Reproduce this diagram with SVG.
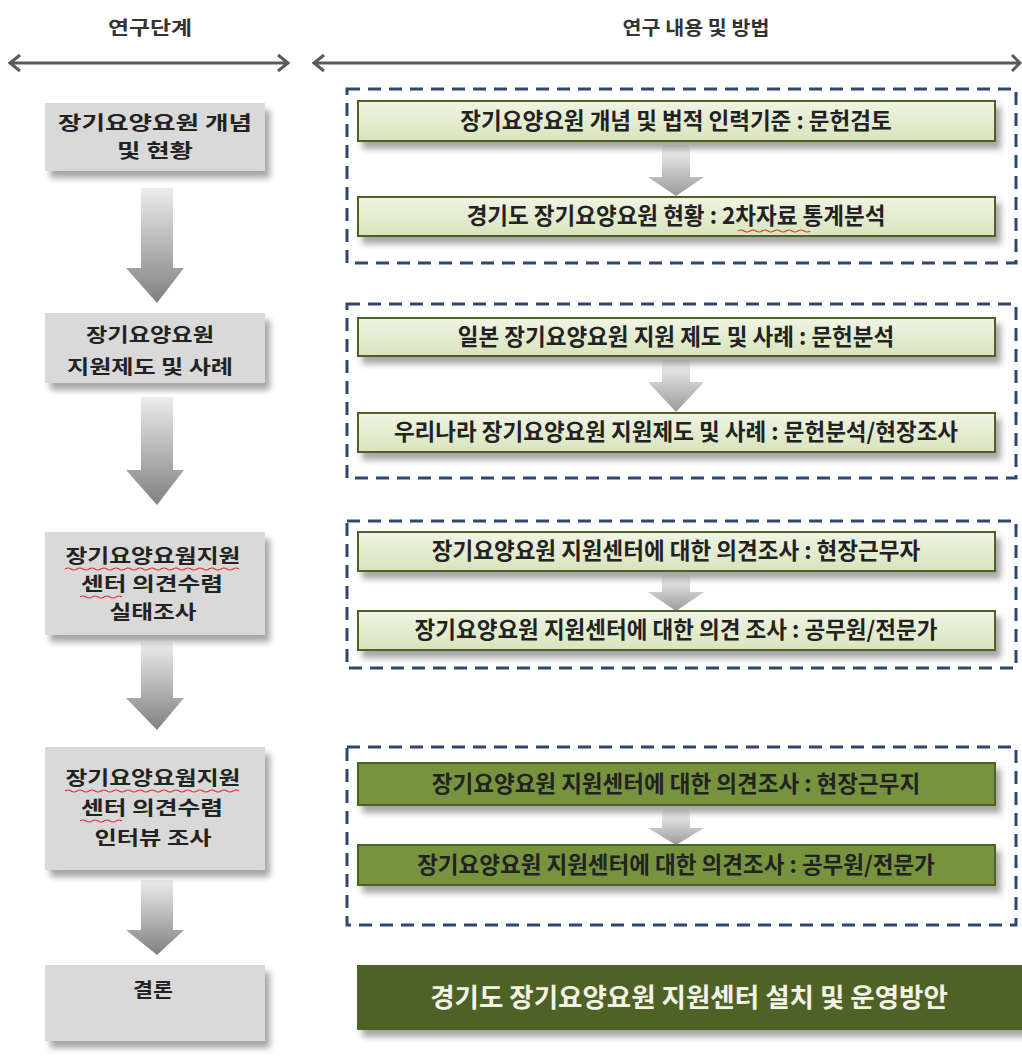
<svg xmlns="http://www.w3.org/2000/svg" width="1022" height="1059" viewBox="0 0 1022 1059">
<style>
.hdr{font-family:"Noto Sans CJK KR","Noto Sans",sans-serif;font-weight:bold;font-size:19px;fill:#333;text-anchor:middle}
.lt{font-family:"Noto Sans CJK KR","Noto Sans",sans-serif;font-weight:bold;font-size:19px;fill:#222;text-anchor:middle}
.rt{font-family:"Noto Sans CJK KR","Noto Sans",sans-serif;font-weight:bold;font-size:22.5px;fill:#222;text-anchor:middle}
.ft{font-family:"Noto Sans CJK KR","Noto Sans",sans-serif;font-weight:bold;font-size:26.5px;fill:#f2f2e6;text-anchor:middle}
.gray{fill:#d9d9d9;filter:url(#sh)}
.lg{fill:url(#lgrad);stroke:#4f6228;stroke-width:2;filter:url(#sh)}
.dg{fill:#77933c;stroke:#4f6228;stroke-width:2;filter:url(#sh)}
.dash{fill:none;stroke:#2f4670;stroke-width:3;stroke-dasharray:13 8}
.big{fill:url(#agrad)}
.small{fill:url(#sgrad)}
.hline{stroke:#5a5a5a;stroke-width:3;fill:none}
.spell{fill:none;stroke:#e03030;stroke-width:1.2}
</style>
<defs>
<filter id="sh" x="-10%" y="-30%" width="125%" height="180%">
<feDropShadow dx="5" dy="7" stdDeviation="3" flood-color="#000" flood-opacity="0.35"/>
</filter>
<linearGradient id="lgrad" x1="0" y1="0" x2="0" y2="1">
<stop offset="0" stop-color="#f0f4e4"/>
<stop offset="1" stop-color="#d8e4bc"/>
</linearGradient>
<linearGradient id="agrad" x1="0" y1="0" x2="0" y2="1">
<stop offset="0" stop-color="#ececec"/>
<stop offset="1" stop-color="#808080"/>
</linearGradient>
<linearGradient id="sgrad" x1="0" y1="0" x2="0" y2="1">
<stop offset="0" stop-color="#f4f4f4"/>
<stop offset="1" stop-color="#9a9a9a"/>
</linearGradient>
</defs>
<rect width="1022" height="1059" fill="#ffffff"/>

<g id="headers">
<text class="hdr" x="150" y="35" textLength="84" lengthAdjust="spacingAndGlyphs">연구단계</text>
<text class="hdr" x="696" y="35" textLength="147" lengthAdjust="spacingAndGlyphs">연구 내용 및 방법</text>
<path class="hline" d="M10 63 H288 M20 55 L10 63 L20 71 M278 55 L288 63 L278 71"/>
<path class="hline" d="M314 63 H1020 M324 55 L314 63 L324 71 M1012 55 L1020 63 L1012 71"/>
</g>

<g id="connectors">
<path class="big" d="M141 188 H173 V268 H184 L157 303 L126 268 H141 Z"/>
<path class="big" d="M141 397 H173 V470 H184 L157 505 L126 470 H141 Z"/>
<path class="big" d="M141 643 H173 V698 H184 L157 730 L126 698 H141 Z"/>
<path class="big" d="M141 880 H173 V930 H184 L157 955 L126 930 H141 Z"/>
<path class="small" d="M662 145 H690 V177 H704 L676 196 L648 177 H662 Z"/>
<path class="small" d="M662 360 H690 V382 H704 L676 412 L648 382 H662 Z"/>
<path class="small" d="M662 575 H690 V592 H704 L676 611 L648 592 H662 Z"/>
<path class="small" d="M662 810 H690 V828 H704 L676 845 L648 828 H662 Z"/>
</g>

<g id="groups">
<rect class="dash" x="347" y="89" width="669" height="174"/>
<rect class="dash" x="347" y="304" width="669" height="174"/>
<rect class="dash" x="347" y="521" width="669" height="147"/>
<rect class="dash" x="347" y="747" width="669" height="178"/>
</g>

<g id="step1">
<rect class="gray" x="45" y="103" width="220" height="68"/>
<text class="lt" x="155" y="130" textLength="194" lengthAdjust="spacingAndGlyphs">장기요양요원 개념</text>
<text class="lt" x="155" y="158" textLength="76" lengthAdjust="spacingAndGlyphs">및 현황</text>
</g>
<g id="step2">
<rect class="gray" x="45" y="313" width="220" height="70"/>
<text class="lt" x="150" y="342" textLength="128" lengthAdjust="spacingAndGlyphs">장기요양요원</text>
<text class="lt" x="150" y="374" textLength="166" lengthAdjust="spacingAndGlyphs">지원제도 및 사례</text>
</g>
<g id="step3">
<rect class="gray" x="45" y="532" width="220" height="103"/>
<text class="lt" x="153" y="563" textLength="175" lengthAdjust="spacingAndGlyphs">장기요양요웜지원</text>
<text class="lt" x="152" y="591" textLength="142" lengthAdjust="spacingAndGlyphs">센터 의견수렴</text>
<text class="lt" x="153" y="619" textLength="87" lengthAdjust="spacingAndGlyphs">실태조사</text>
<path class="spell" d="M65 569 q3 -2 6 0 t6 0 t6 0 t6 0 t6 0 t6 0 t6 0 t6 0 t6 0 t6 0 t6 0 t6 0 t6 0 t6 0 t6 0 t6 0 t6 0 t6 0 t6 0 t6 0 t6 0 t6 0 t6 0 t6 0 t6 0 t6 0 t6 0 t6 0 t6 0"/>
<path class="spell" d="M80 597 q3 -2 6 0 t6 0 t6 0 t6 0 t6 0 t6 0 t6 0"/>
</g>
<g id="step4">
<rect class="gray" x="45" y="747" width="220" height="123"/>
<text class="lt" x="153" y="785" textLength="175" lengthAdjust="spacingAndGlyphs">장기요양요웜지원</text>
<text class="lt" x="152" y="815" textLength="142" lengthAdjust="spacingAndGlyphs">센터 의견수렴</text>
<text class="lt" x="153" y="845" textLength="117" lengthAdjust="spacingAndGlyphs">인터뷰 조사</text>
<path class="spell" d="M65 791 q3 -2 6 0 t6 0 t6 0 t6 0 t6 0 t6 0 t6 0 t6 0 t6 0 t6 0 t6 0 t6 0 t6 0 t6 0 t6 0 t6 0 t6 0 t6 0 t6 0 t6 0 t6 0 t6 0 t6 0 t6 0 t6 0 t6 0 t6 0 t6 0 t6 0"/>
<path class="spell" d="M80 821 q3 -2 6 0 t6 0 t6 0 t6 0 t6 0 t6 0 t6 0"/>
</g>
<g id="step5">
<rect class="gray" x="45" y="965" width="220" height="76"/>
<text class="lt" x="153" y="997" textLength="40" lengthAdjust="spacingAndGlyphs">결론</text>
</g>

<g id="m1a">
<rect class="lg" x="358" y="101" width="637" height="40"/>
<text class="rt" x="676" y="129">장기요양요원 개념 및 법적 인력기준 : 문헌검토</text>
</g>
<g id="m1b">
<rect class="lg" x="358" y="197" width="637" height="39"/>
<text class="rt" x="676" y="224">경기도 장기요양요원 현황 : 2차자료 통계분석</text>
<path class="spell" d="M738 231 q3 -2 6 0 t6 0 t6 0 t6 0 t6 0 t6 0 t6 0 t6 0 t6 0 t6 0 t6 0 t6 0"/>
</g>
<g id="m2a">
<rect class="lg" x="358" y="318" width="637" height="38"/>
<text class="rt" x="676" y="345">일본 장기요양요원 지원 제도 및 사례 : 문헌분석</text>
</g>
<g id="m2b">
<rect class="lg" x="358" y="413" width="637" height="39"/>
<text class="rt" x="676" y="440">우리나라 장기요양요원 지원제도 및 사례 : 문헌분석/현장조사</text>
</g>
<g id="m3a">
<rect class="lg" x="358" y="532" width="637" height="39"/>
<text class="rt" x="676" y="559">장기요양요원  지원센터에 대한 의견조사 : 현장근무자</text>
</g>
<g id="m3b">
<rect class="lg" x="358" y="611" width="637" height="39"/>
<text class="rt" x="676" y="638">장기요양요원 지원센터에 대한 의견 조사 : 공무원/전문가</text>
</g>
<g id="m4a">
<rect class="dg" x="358" y="763" width="637" height="42"/>
<text class="rt" x="676" y="792">장기요양요원 지원센터에 대한 의견조사 : 현장근무지</text>
</g>
<g id="m4b">
<rect class="dg" x="358" y="845" width="637" height="40"/>
<text class="rt" x="676" y="873">장기요양요원 지원센터에 대한 의견조사 : 공무원/전문가</text>
</g>
<g id="final">
<rect x="357" y="965" width="670" height="65" fill="#4f6228" filter="url(#sh)"/>
<text class="ft" x="689" y="1007">경기도 장기요양요원 지원센터 설치 및 운영방안</text>
</g>
</svg>
